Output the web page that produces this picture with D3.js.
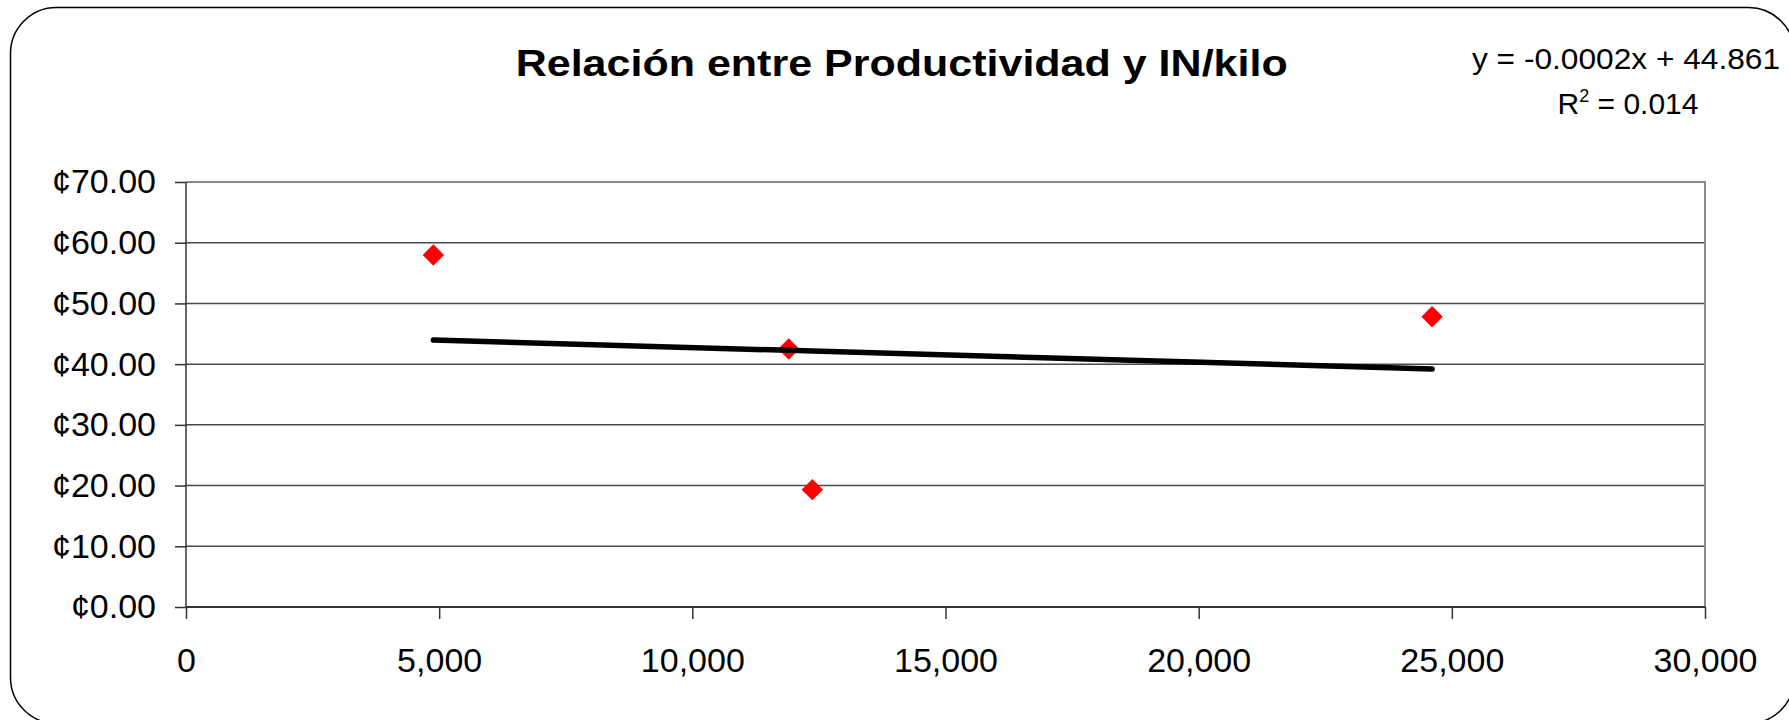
<!DOCTYPE html>
<html>
<head>
<meta charset="utf-8">
<script src="https://cdn.jsdelivr.net/npm/d3@7"></script>
<style>
  html, body { margin: 0; padding: 0; background: #fff; }
  svg { display: block; }
  text { font-family: "Liberation Sans", Arial, sans-serif; }
</style>
</head>
<body>
<svg id="chart" width="1789" height="720"></svg>
<script>
// ---- Data ----
const productividad = [4885, 11904, 12370, 24610];      // x values
const inPorKilo     = [57.98, 42.5, 19.32, 47.8];       // y values (¢)
const xTicks = [0, 5000, 10000, 15000, 20000, 25000, 30000];
const yTicks = [0, 10, 20, 30, 40, 50, 60, 70];
const titleText = "Relación entre Productividad y IN/kilo";
const equationText = "y = -0.0002x + 44.861";
const r2Value = "0.014";

const svg = d3.select("#chart");
const plot = { left: 186, right: 1705, top: 182, bottom: 607 };

const x = d3.scaleLinear().domain([0, 30000]).range([plot.left, plot.right]);
const y = d3.scaleLinear().domain([0, 70]).range([plot.bottom, plot.top]);

// Outer rounded frame
svg.append("rect")
  .attr("x", 10.5).attr("y", 7.5)
  .attr("width", 1784).attr("height", 716)
  .attr("rx", 46).attr("ry", 46)
  .attr("fill", "#fff").attr("stroke", "#000").attr("stroke-width", 1.5);

// Gridlines
svg.append("g").selectAll("line")
  .data(yTicks.filter(d => d > 0 && d < 70))
  .join("line")
  .attr("x1", plot.left).attr("x2", plot.right)
  .attr("y1", d => y(d)).attr("y2", d => y(d))
  .attr("stroke", "#4a4a4a").attr("stroke-width", 1.5);

// Plot border (top and right, grey)
svg.append("path")
  .attr("d", `M${plot.left},${plot.top}H${plot.right}V${plot.bottom}`)
  .attr("fill", "none").attr("stroke", "#8a8a8a").attr("stroke-width", 2);

// Y axis
const yAxis = d3.axisLeft(y).tickValues(yTicks).tickSize(11).tickPadding(19)
  .tickFormat(d => "¢" + d3.format(".2f")(d));
const gy = svg.append("g").attr("transform", `translate(${plot.left},0)`).call(yAxis);
gy.select(".domain").attr("stroke", "#333").attr("stroke-width", 1.5)
  .attr("d", `M0,${plot.top}V${plot.bottom}`);
gy.selectAll(".tick line").attr("stroke", "#333").attr("stroke-width", 1.5);
gy.selectAll(".tick text").attr("font-size", 34).attr("fill", "#000")
  .attr("font-family", '"Liberation Sans", Arial, sans-serif');

// X axis
const xAxis = d3.axisBottom(x).tickValues(xTicks).tickSize(12).tickPadding(29)
  .tickFormat(d3.format(","));
const gx = svg.append("g").attr("transform", `translate(0,${plot.bottom})`).call(xAxis);
gx.select(".domain").attr("stroke", "#333").attr("stroke-width", 2)
  .attr("d", `M${plot.left},0H${plot.right}`);
gx.selectAll(".tick line").attr("stroke", "#333").attr("stroke-width", 1.5);
gx.selectAll(".tick text").attr("font-size", 34).attr("fill", "#000")
  .attr("font-family", '"Liberation Sans", Arial, sans-serif');

// Points
const pts = productividad.map((v, i) => ({ x: v, y: inPorKilo[i] }));
svg.append("g").selectAll("path")
  .data(pts)
  .join("path")
  .attr("d", d3.symbol(d3.symbolDiamond2, 290))
  .attr("transform", d => `translate(${x(d.x)},${y(d.y)})`)
  .attr("fill", "#ff0000");

// Linear trend line (least squares through the points)
const mx = d3.mean(pts, d => d.x), my = d3.mean(pts, d => d.y);
const slope = d3.sum(pts, d => (d.x - mx) * (d.y - my)) / d3.sum(pts, d => (d.x - mx) ** 2);
const intercept = my - slope * mx;
const xExt = d3.extent(pts, d => d.x);
svg.append("path")
  .datum(xExt.map(v => ({ x: v, y: intercept + slope * v })))
  .attr("d", d3.line().x(d => x(d.x)).y(d => y(d.y)))
  .attr("fill", "none").attr("stroke", "#000").attr("stroke-width", 5.5)
  .attr("stroke-linecap", "round");

// Title
svg.append("text")
  .attr("x", 901.7).attr("y", 76)
  .attr("text-anchor", "middle")
  .attr("font-size", 37).attr("font-weight", "bold")
  .attr("textLength", 772).attr("lengthAdjust", "spacingAndGlyphs")
  .text(titleText);

// Trendline equation
svg.append("text")
  .attr("x", 1626).attr("y", 69)
  .attr("text-anchor", "middle")
  .attr("font-size", 30)
  .attr("textLength", 308).attr("lengthAdjust", "spacingAndGlyphs")
  .text(equationText);

const r2 = svg.append("text")
  .attr("x", 1628).attr("y", 114)
  .attr("text-anchor", "middle")
  .attr("font-size", 30);
r2.append("tspan").text("R");
r2.append("tspan").attr("font-size", 18).attr("dy", -12).text("2");
r2.append("tspan").attr("dy", 12).text(" = " + r2Value);
</script>
</body>
</html>
